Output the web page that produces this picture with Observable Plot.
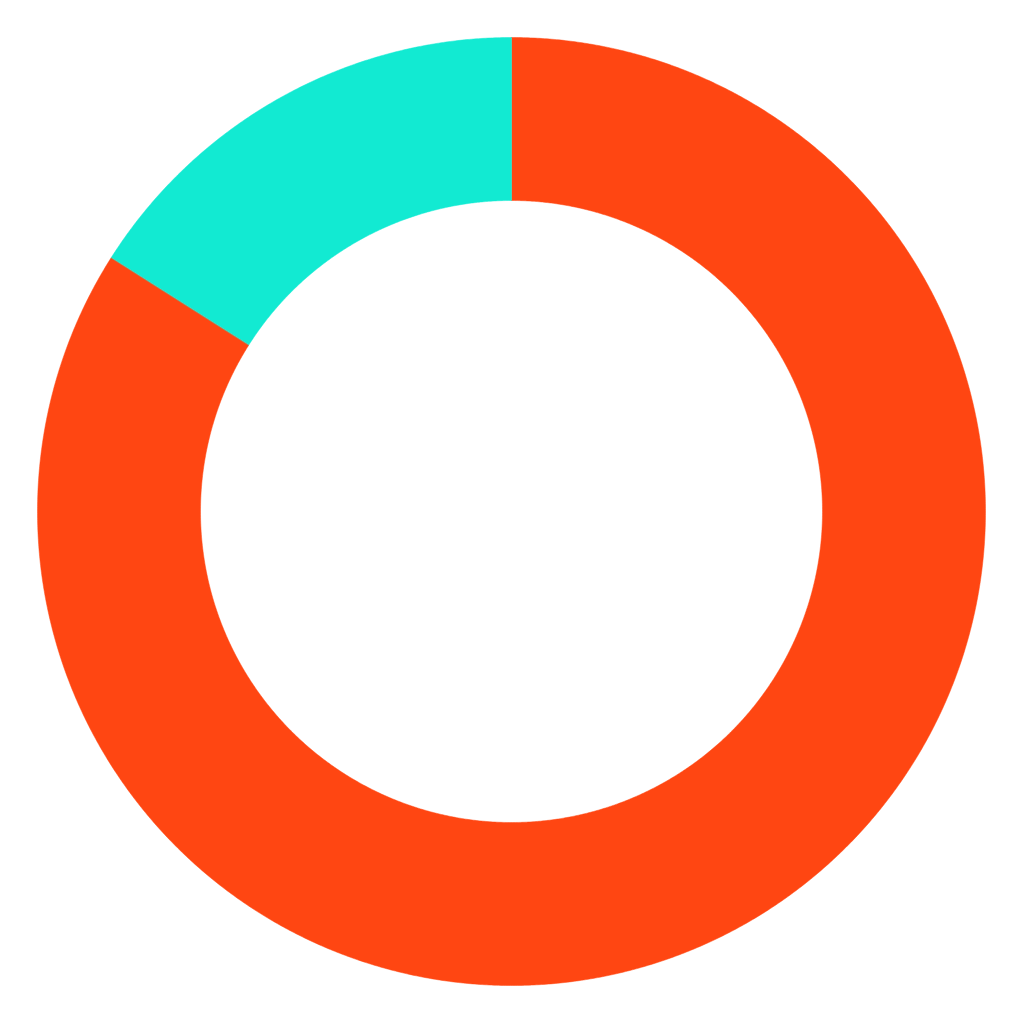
<!DOCTYPE html>
<html>
<head>
<meta charset="utf-8">
<script src="https://cdn.jsdelivr.net/npm/d3@7"></script>
<script src="https://cdn.jsdelivr.net/npm/@observablehq/plot@0.6"></script>
<style>
  html, body { margin: 0; padding: 0; background: #ffffff; }
</style>
</head>
<body>
<div id="chart"></div>
<script>
// Data
const categories = ["A", "B"];
const values = [84, 16];
const colors = ["#FF4612", "#12EAD2"];

// Geometry (layout, not data)
const W = 1024, H = 1024;
const cx = 511, cy = 511, R = 474, r = 311;
const inner = r / R;

const pie = d3.pie().sort(null).value(d => d.value);
const arcs = pie(categories.map((c, i) => ({category: c, value: values[i]})));

// Build polygon outline for each slice in unit coordinates
const pts = [];
arcs.forEach(a => {
  const n = Math.max(8, Math.ceil((a.endAngle - a.startAngle) / 0.005));
  for (let k = 0; k <= n; k++) {
    const t = a.startAngle + (a.endAngle - a.startAngle) * k / n;
    pts.push({category: a.data.category, x: Math.sin(t), y: Math.cos(t)});
  }
  for (let k = n; k >= 0; k--) {
    const t = a.startAngle + (a.endAngle - a.startAngle) * k / n;
    pts.push({category: a.data.category, x: inner * Math.sin(t), y: inner * Math.cos(t)});
  }
});

const chart = Plot.plot({
  width: W,
  height: H,
  margin: 0,
  x: {domain: [-cx / R, (W - cx) / R], range: [0, W], axis: null},
  y: {domain: [-(H - cy) / R, cy / R], range: [H, 0], axis: null},
  color: {domain: categories, range: colors},
  marks: [
    Plot.line(pts, {
      x: "x", y: "y", z: "category",
      fill: "category", stroke: "category", strokeWidth: 0.5,
      curve: "linear-closed"
    })
  ]
});
document.getElementById("chart").appendChild(chart);
</script>
</body>
</html>
